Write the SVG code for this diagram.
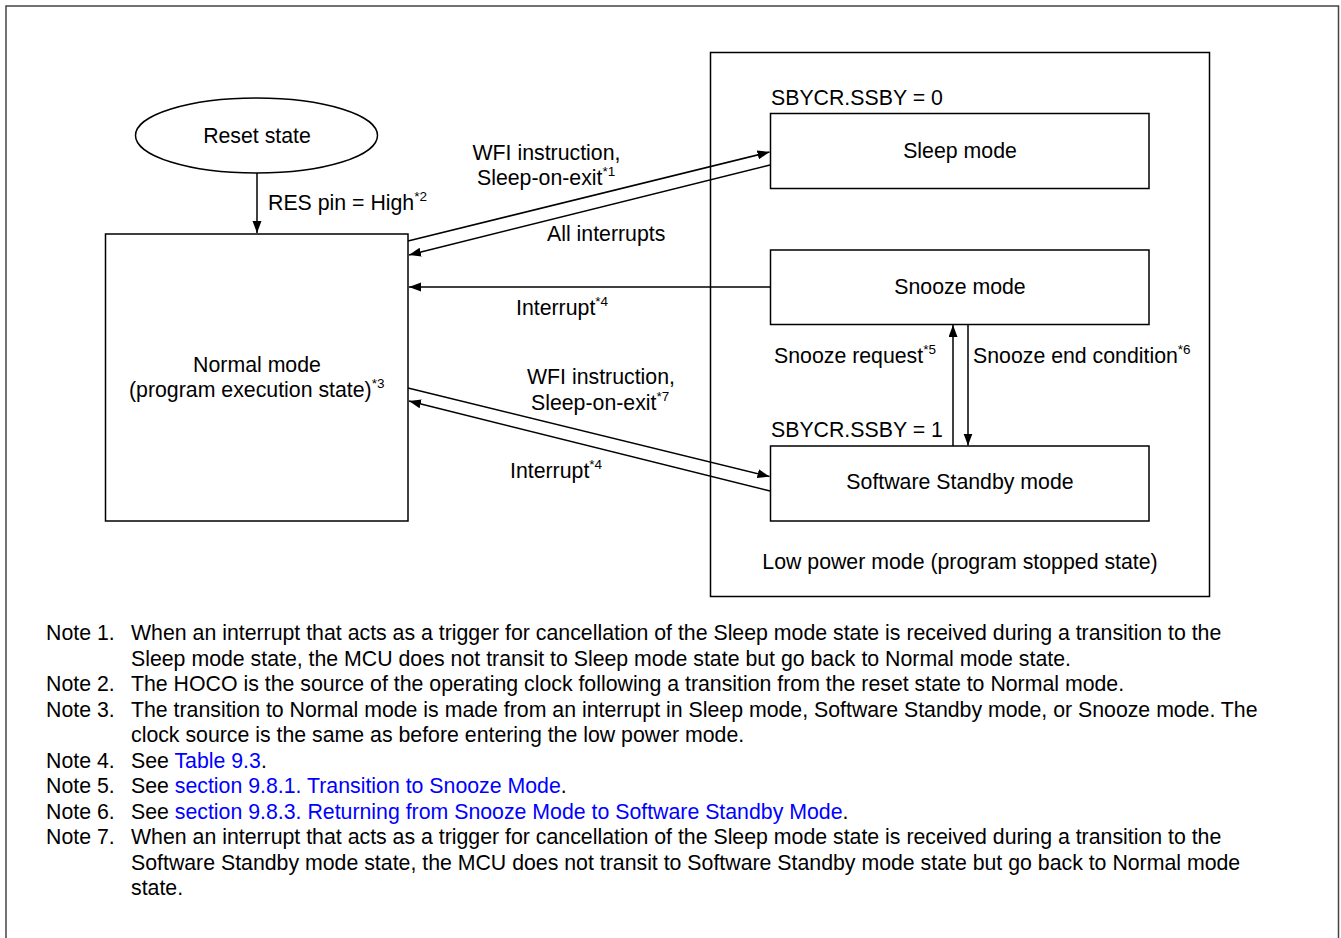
<svg xmlns="http://www.w3.org/2000/svg" width="1341" height="938" viewBox="0 0 1341 938">
<defs>
<marker id="ah" markerUnits="userSpaceOnUse" markerWidth="13" markerHeight="10" refX="12" refY="4.5" orient="auto">
<path d="M0,0 L12,4.5 L0,9 z" fill="#000"/>
</marker>
<style>
.b{fill:#fff;stroke:#000;stroke-width:1.5}
.c{fill:none;stroke:#000;stroke-width:1.5;marker-end:url(#ah)}
text{font-family:"Liberation Sans",Arial,sans-serif;fill:#000}
.t{font-size:21.3px}
.m{text-anchor:middle}
.s{font-size:13.5px}
.n{font-size:21.3px}
.l{fill:#0000ff}
</style>
</defs>
<rect width="1341" height="938" fill="#fff"/>
<path d="M6,938 V6 H1338.5 V938" fill="none" stroke="#444" stroke-width="1.5"/>
<g id="lowpower">
<rect class="b" x="710.5" y="52.5" width="499" height="544"/>
<text class="t m" x="960" y="569">Low power mode (program stopped state)</text>
<text class="t" x="771" y="104.5">SBYCR.SSBY = 0</text>
<text class="t" x="771" y="437">SBYCR.SSBY = 1</text>
</g>
<g id="reset">
<ellipse class="b" cx="256.5" cy="135.5" rx="121" ry="37.5"/>
<text class="t m" x="257" y="142.5">Reset state</text>
</g>
<g id="normal">
<rect class="b" x="105.5" y="234" width="302.5" height="287"/>
<text class="t m" x="257" y="372">Normal mode</text>
<text class="t" x="129" y="397">(program execution state)<tspan class="s" dy="-9">*3</tspan></text>
</g>
<g id="sleep">
<rect class="b" x="770.5" y="113.5" width="378.5" height="75"/>
<text class="t m" x="960" y="158">Sleep mode</text>
</g>
<g id="snooze">
<rect class="b" x="770.5" y="250" width="378.5" height="74.5"/>
<text class="t m" x="960" y="294">Snooze mode</text>
</g>
<g id="standby">
<rect class="b" x="770.5" y="446" width="378.5" height="75"/>
<text class="t m" x="960" y="488.5">Software Standby mode</text>
</g>
<g id="connectors">
<line class="c" x1="257" y1="173" x2="257" y2="233"/>
<line class="c" x1="408" y1="241" x2="769.5" y2="152"/>
<line class="c" x1="770" y1="165" x2="409" y2="255"/>
<line class="c" x1="770" y1="287" x2="409" y2="287"/>
<line class="c" x1="408" y1="388" x2="769.5" y2="476.5"/>
<line class="c" x1="770" y1="491" x2="409" y2="401"/>
<line class="c" x1="953" y1="446" x2="953" y2="325"/>
<line class="c" x1="968" y1="324.5" x2="968" y2="445.5"/>
</g>
<g id="labels">
<text class="t" x="268" y="210">RES pin = High<tspan class="s" dy="-9">*2</tspan></text>
<text class="t" x="472.5" y="160">WFI instruction,</text>
<text class="t" x="477" y="184.5">Sleep-on-exit<tspan class="s" dy="-9">*1</tspan></text>
<text class="t" x="547" y="241">All interrupts</text>
<text class="t" x="516" y="315">Interrupt<tspan class="s" dy="-9">*4</tspan></text>
<text class="t" x="527" y="384">WFI instruction,</text>
<text class="t" x="531" y="410">Sleep-on-exit<tspan class="s" dy="-9">*7</tspan></text>
<text class="t" x="510" y="478">Interrupt<tspan class="s" dy="-9">*4</tspan></text>
<text class="t" x="774" y="363">Snooze request<tspan class="s" dy="-9">*5</tspan></text>
<text class="t" x="973" y="363">Snooze end condition<tspan class="s" dy="-9">*6</tspan></text>
</g>
<g id="notes" class="n">
<text class="n" x="46" y="640">Note 1.</text>
<text class="n" x="131" y="640">When an interrupt that acts as a trigger for cancellation of the Sleep mode state is received during a transition to the</text>
<text class="n" x="131" y="665.5">Sleep mode state, the MCU does not transit to Sleep mode state but go back to Normal mode state.</text>
<text class="n" x="46" y="691">Note 2.</text>
<text class="n" x="131" y="691">The HOCO is the source of the operating clock following a transition from the reset state to Normal mode.</text>
<text class="n" x="46" y="716.5">Note 3.</text>
<text class="n" x="131" y="716.5">The transition to Normal mode is made from an interrupt in Sleep mode, Software Standby mode, or Snooze mode. The</text>
<text class="n" x="131" y="742">clock source is the same as before entering the low power mode.</text>
<text class="n" x="46" y="767.5">Note 4.</text>
<text class="n" x="131" y="767.5">See <tspan class="l">Table 9.3</tspan>.</text>
<text class="n" x="46" y="793">Note 5.</text>
<text class="n" x="131" y="793">See <tspan class="l">section 9.8.1. Transition to Snooze Mode</tspan>.</text>
<text class="n" x="46" y="818.5">Note 6.</text>
<text class="n" x="131" y="818.5">See <tspan class="l">section 9.8.3. Returning from Snooze Mode to Software Standby Mode</tspan>.</text>
<text class="n" x="46" y="844">Note 7.</text>
<text class="n" x="131" y="844">When an interrupt that acts as a trigger for cancellation of the Sleep mode state is received during a transition to the</text>
<text class="n" x="131" y="869.5">Software Standby mode state, the MCU does not transit to Software Standby mode state but go back to Normal mode</text>
<text class="n" x="131" y="895">state.</text>
</g>
</svg>
